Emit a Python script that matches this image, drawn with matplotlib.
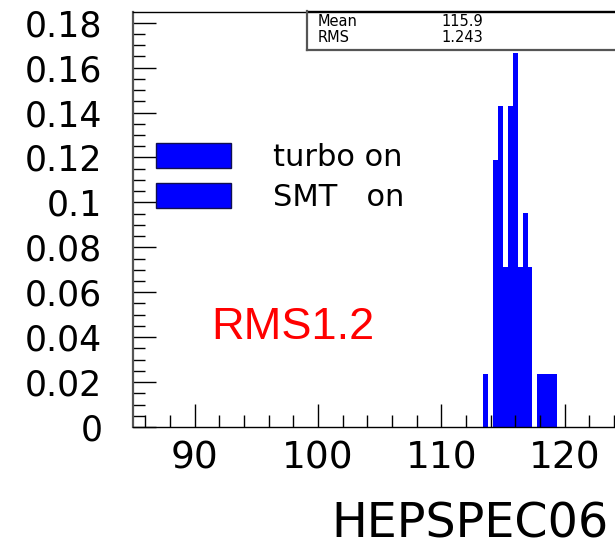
import matplotlib
matplotlib.use("Agg")
import matplotlib.pyplot as plt
from matplotlib.patches import Patch
from matplotlib.lines import Line2D
from matplotlib.ticker import MultipleLocator, FixedLocator

# ---- data ----
bin_left = [113.4, 113.8, 114.2, 114.6, 115.0, 115.4, 115.8, 116.2,
            116.6, 117.0, 117.4, 117.8, 118.2, 118.6, 119.0]
bin_width = 0.4
fractions = [0.0238, 0.0, 0.1190, 0.1429, 0.0714, 0.1429, 0.1667, 0.0714,
             0.0952, 0.0714, 0.0, 0.0238, 0.0238, 0.0238, 0.0238]
x_ticks = [90, 100, 110, 120]
legend_labels = ["turbo on", "SMT   on"]
stat_names = ["Mean", "RMS"]
stat_values = ["115.9", "1.243"]
annotation = "RMS1.2"
x_label = "HEPSPEC06"

W, H = 615, 548
fig = plt.figure(figsize=(W / 100, H / 100), dpi=100)

def fx(px):
    return px / W

def fy(py):
    return 1 - py / H

x_min, x_max = 85, 125
px_per_unit = 12.33
ax = fig.add_axes([fx(133), fy(427), (x_max - x_min) * px_per_unit / W, (427 - 11.7) / H])

ax.bar(bin_left, fractions, width=bin_width, align="edge", color="#0000ff", linewidth=0)

ax.set_xlim(x_min, x_max)
ax.set_ylim(0, 0.1849)

ax.xaxis.set_major_locator(FixedLocator(x_ticks))
ax.xaxis.set_minor_locator(MultipleLocator(2))
ax.yaxis.set_major_locator(MultipleLocator(0.02))
ax.yaxis.set_minor_locator(MultipleLocator(0.005))
ax.yaxis.set_major_formatter(plt.FuncFormatter(lambda v, p: "0" if abs(v) < 1e-9 else ("%.2f" % v).rstrip("0")))

ax.tick_params(axis="both", which="major", direction="in", length=16.6, width=1, color="black")
ax.tick_params(axis="both", which="minor", direction="in", length=8.3, width=1, color="black")
ax.tick_params(axis="x", which="major", labelsize=27, pad=10)
ax.tick_params(axis="y", which="major", labelsize=25, pad=22)
for lab in ax.get_xticklabels() + ax.get_yticklabels():
    lab.set_family("DejaVu Sans")

for s in ["top", "bottom", "right"]:
    ax.spines[s].set_linewidth(1)
    ax.spines[s].set_color("black")
ax.spines["left"].set_linewidth(1.6)
ax.spines["left"].set_color("#555555")

# legend
handles = [Patch(facecolor="#0000ff", edgecolor="#101050", linewidth=1) for _ in legend_labels]
leg = ax.legend(handles, legend_labels, loc="upper left",
                bbox_to_anchor=(fx(155.7), fy(143)), bbox_transform=fig.transFigure,
                frameon=False, borderpad=0, borderaxespad=0,
                handlelength=2.45, handleheight=0.85, handletextpad=1.39,
                labelspacing=0.36, prop={"family": "DejaVu Sans", "size": 22})

# annotation
fig.text(fx(292.5), fy(327.5), annotation, color="red", ha="center", va="center",
         family="Liberation Sans", fontsize=32.5)

# x-axis title
fig.text(fx(331), fy(524), x_label, ha="left", va="center", family="DejaVu Sans", fontsize=34.3)

# stats box
box_left, box_top, box_bottom = 307, 11, 50
fig.add_artist(Line2D([fx(box_left), fx(700)], [fy(box_top), fy(box_top)],
                      transform=fig.transFigure, color="black", linewidth=1))
fig.add_artist(Line2D([fx(box_left), fx(box_left)], [fy(box_top), fy(box_bottom)],
                      transform=fig.transFigure, color="#555555", linewidth=1.6))
fig.add_artist(Line2D([fx(box_left), fx(700)], [fy(box_bottom), fy(box_bottom)],
                      transform=fig.transFigure, color="#555555", linewidth=1.6))
for i, (n, v) in enumerate(zip(stat_names, stat_values)):
    yc = 21.5 + i * 16
    fig.text(fx(318), fy(yc), n, ha="left", va="center", family="DejaVu Sans", fontsize=10.5)
    fig.text(fx(441.5), fy(yc), v, ha="left", va="center", family="DejaVu Sans", fontsize=10.5)

fig.savefig("out.png", dpi=100)
